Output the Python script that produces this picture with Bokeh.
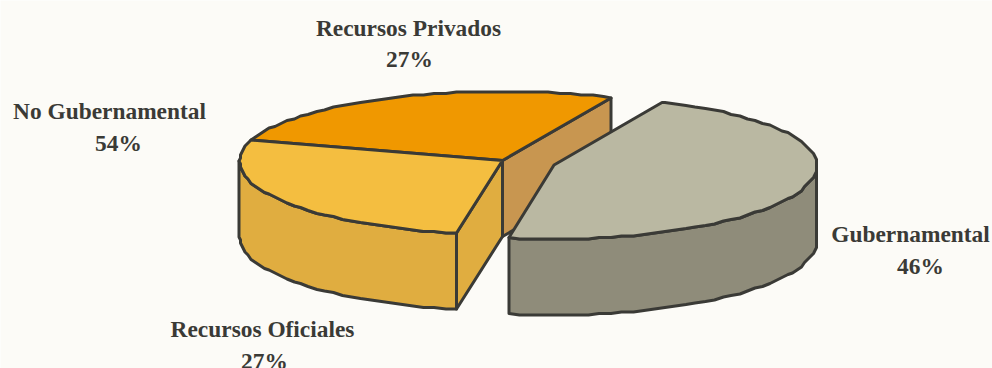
import numpy as np
from bokeh.core.properties import value
from bokeh.embed import file_html
from bokeh.models import Range1d
from bokeh.plotting import figure
from bokeh.resources import INLINE

# Share of funding by source, in percent
sources = ["Gubernamental", "Recursos Privados", "Recursos Oficiales"]
shares = [46, 27, 27]
group_label = "No Gubernamental"
group_share = shares[1] + shares[2]

top_colours = ["#BAB8A2", "#F09800", "#F4BE40"]
wall_colours = ["#8F8C7A", "#C89650", "#E0AD40"]
INK = "#3A3A36"
PAPER = "#FCFBF7"

# Projection of the tilted disc onto the page (page pixels, y grows downwards)
CX, CY = 502.0, 160.0
RX, RY_BACK, RY_FRONT = 263.0, 69.0, 74.0
DEPTH = 76.0
START_DEG = -100.0
STEP_DEG = 2.5
GRID = 1.5       # the rim outline snaps to a coarse grid, giving its hand-cut edge
EXPLODE = 0.205


def rim(theta_deg, dx=0.0, dy=0.0):
    t = np.radians(theta_deg)
    s = np.sin(t)
    ry = np.where(s > 0, RY_BACK, RY_FRONT)
    x = CX + dx + RX * np.cos(t)
    y = CY + dy - ry * s
    return np.round(x / GRID) * GRID, np.round(y / GRID) * GRID


def arc(a, b):
    # Samples fall on whole multiples of the step, so the disc's extremes are kept
    lo, hi = min(a, b), max(a, b)
    inner = np.arange(np.ceil(lo / STEP_DEG + 1e-9), np.floor(hi / STEP_DEG - 1e-9) + 1) * STEP_DEG
    pts = np.r_[lo, inner, hi]
    return pts if a <= b else pts[::-1]


p = figure(width=992, height=368, output_backend="svg", toolbar_location=None,
           x_range=Range1d(0, 992), y_range=Range1d(368, 0),
           background_fill_color=PAPER, border_fill_color=PAPER,
           min_border=0, outline_line_color=None)
p.axis.visible = False
p.grid.visible = False


def face(xs, ys, colour):
    p.patch(list(xs), list(ys), fill_color=colour, line_color=INK,
            line_width=3, line_join="round")


angles = np.cumsum([0] + shares) / sum(shares) * 360 + START_DEG
gub_a, gub_b = angles[0], angles[1]
priv_a, priv_b = angles[1], angles[2]
ofi_a, ofi_b = angles[2], angles[3]

# Recursos Privados: cut wall seen behind the gap, then the top
ex, ey = rim(np.array([priv_a]))
face([CX, ex[0], ex[0], CX], [CY, ey[0], ey[0] + DEPTH, CY + DEPTH], wall_colours[1])
ax, ay = rim(arc(priv_a, priv_b))
face(np.r_[CX, ax], np.r_[CY, ay], top_colours[1])

# Recursos Oficiales: curved wall, cut wall, then the top
ax, ay = rim(arc(180, ofi_b))
face(np.r_[ax, ax[::-1]], np.r_[ay, ay[::-1] + DEPTH], wall_colours[2])
face([CX, ax[-1], ax[-1], CX], [CY, ay[-1], ay[-1] + DEPTH, CY + DEPTH], wall_colours[2])
ax, ay = rim(arc(ofi_a, ofi_b))
face(np.r_[CX, ax], np.r_[CY, ay], top_colours[2])

# Gubernamental is pulled out along its middle direction
mid = np.radians((gub_a + gub_b) / 2)
ox = EXPLODE * RX * np.cos(mid)
oy = -EXPLODE * RY_FRONT * np.sin(mid)
ax, ay = rim(arc(gub_a, 0), ox, oy)
face(np.r_[ax, ax[::-1]], np.r_[ay, ay[::-1] + DEPTH], wall_colours[0])
ax, ay = rim(arc(gub_a, gub_b), ox, oy)
face(np.r_[CX + ox, ax], np.r_[CY + oy, ay], top_colours[0])

# Labels: name line over percentage line
label_names = [sources[1], group_label, sources[0], sources[2]]
label_values = [shares[1], group_share, shares[0], shares[2]]
name_x = [408, 109, 910, 262]
name_y = [27, 110, 233, 328]
value_x = [409, 118, 920, 264]
value_y = [58, 142, 265, 360]

text_style = dict(text_font=value("Liberation Serif"), text_font_style="bold",
                  text_font_size="23.4px", text_color=INK, text_align="center",
                  text_baseline="alphabetic")
p.text(x=name_x, y=name_y, text=label_names, **text_style)
p.text(x=value_x, y=value_y, text=[f"{v}%" for v in label_values], **text_style)

open("out.html", "w").write(file_html(p, INLINE))
